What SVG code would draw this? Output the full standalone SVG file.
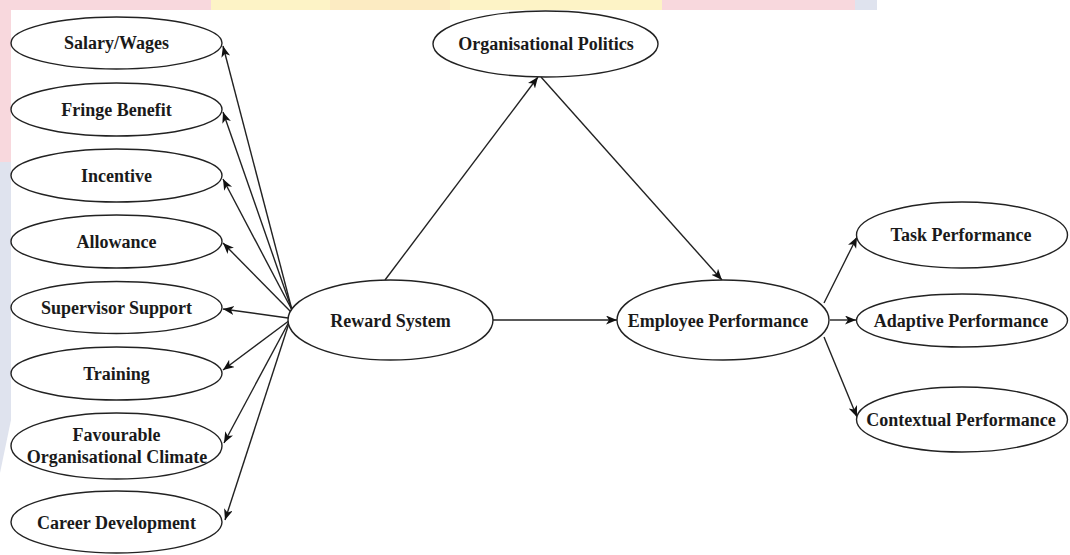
<svg xmlns="http://www.w3.org/2000/svg" width="1070" height="555" viewBox="0 0 1070 555">
<style>
.n ellipse{fill:#fff;stroke:#222;stroke-width:1.4}
.n text{font-family:"Liberation Serif","Times New Roman",serif;font-weight:bold;font-size:18px;fill:#1a1a1a;text-anchor:middle;dominant-baseline:central}
.c line{stroke:#222;stroke-width:1.4;marker-end:url(#ah)}
</style>
<defs>
<marker id="ah" markerUnits="userSpaceOnUse" markerWidth="12" markerHeight="10" refX="11" refY="4.5" orient="auto">
<path d="M0,0 L11,4.5 L0,9 L3,4.5 Z" fill="#111"/>
</marker>
</defs>
<rect width="1070" height="555" fill="#fff"/>
<g id="watermark">
<rect x="0" y="0" width="211" height="10" fill="#f8d8dd"/>
<rect x="211" y="0" width="451" height="10" fill="#fdf3c6"/>
<rect x="330" y="0" width="120" height="10" fill="#fcebc2"/>
<rect x="662" y="0" width="193" height="10" fill="#f8d8dd"/>
<rect x="855" y="0" width="22" height="10" fill="#dfe3ee"/>
<rect x="0" y="10" width="11" height="152" fill="#f8d8dd"/>
<polygon points="0,162 11,162 11,420 0,473" fill="#dfe3ee"/>
</g>
<g id="connectors" class="c">
<line x1="292" y1="310" x2="223" y2="46"/>
<line x1="292" y1="310" x2="223" y2="112"/>
<line x1="292" y1="310" x2="223" y2="179"/>
<line x1="291" y1="312" x2="223" y2="243"/>
<line x1="288" y1="318" x2="223" y2="309"/>
<line x1="290" y1="320" x2="223" y2="370"/>
<line x1="290" y1="320" x2="224" y2="443"/>
<line x1="290" y1="320" x2="225" y2="520"/>
<line x1="385" y1="280" x2="538" y2="77"/>
<line x1="541" y1="77" x2="722" y2="280"/>
<line x1="493" y1="320" x2="617" y2="320"/>
<line x1="824" y1="303" x2="857" y2="237"/>
<line x1="830" y1="320" x2="856" y2="320"/>
<line x1="824" y1="337" x2="857" y2="417"/>
</g>
<g id="salary" class="n"><ellipse cx="116.5" cy="43" rx="105.5" ry="26"/><text x="116.5" y="43">Salary/Wages</text></g>
<g id="fringe" class="n"><ellipse cx="116.5" cy="109.5" rx="105.5" ry="26.5"/><text x="116.5" y="109.5">Fringe Benefit</text></g>
<g id="incentive" class="n"><ellipse cx="116.5" cy="175.5" rx="105.5" ry="26.5"/><text x="116.5" y="175.5">Incentive</text></g>
<g id="allowance" class="n"><ellipse cx="116.5" cy="241.5" rx="105.5" ry="26.5"/><text x="116.5" y="241.5">Allowance</text></g>
<g id="supervisor" class="n"><ellipse cx="116.5" cy="307.5" rx="105.5" ry="26"/><text x="116.5" y="307.5">Supervisor Support</text></g>
<g id="training" class="n"><ellipse cx="116.5" cy="373.5" rx="105.5" ry="26.5"/><text x="116.5" y="373.5">Training</text></g>
<g id="climate" class="n"><ellipse cx="116.5" cy="446" rx="105.5" ry="33"/><text x="116.5" y="435">Favourable</text><text x="117" y="457">Organisational Climate</text></g>
<g id="career" class="n"><ellipse cx="116.5" cy="522" rx="105.5" ry="31"/><text x="116.5" y="523">Career Development</text></g>
<g id="reward" class="n"><ellipse cx="390.5" cy="320" rx="102.5" ry="40"/><text x="390.5" y="321">Reward System</text></g>
<g id="politics" class="n"><ellipse cx="545.5" cy="44" rx="112.5" ry="33"/><text x="546" y="44">Organisational Politics</text></g>
<g id="employee" class="n"><ellipse cx="723" cy="320" rx="106" ry="40"/><text x="718" y="321">Employee Performance</text></g>
<g id="task" class="n"><ellipse cx="962" cy="235" rx="105.5" ry="33"/><text x="961" y="235">Task Performance</text></g>
<g id="adaptive" class="n"><ellipse cx="962" cy="320.5" rx="105.5" ry="26.5"/><text x="961" y="320.5">Adaptive Performance</text></g>
<g id="contextual" class="n"><ellipse cx="962" cy="419.5" rx="105.5" ry="32.5"/><text x="961" y="419.5">Contextual Performance</text></g>
</svg>
